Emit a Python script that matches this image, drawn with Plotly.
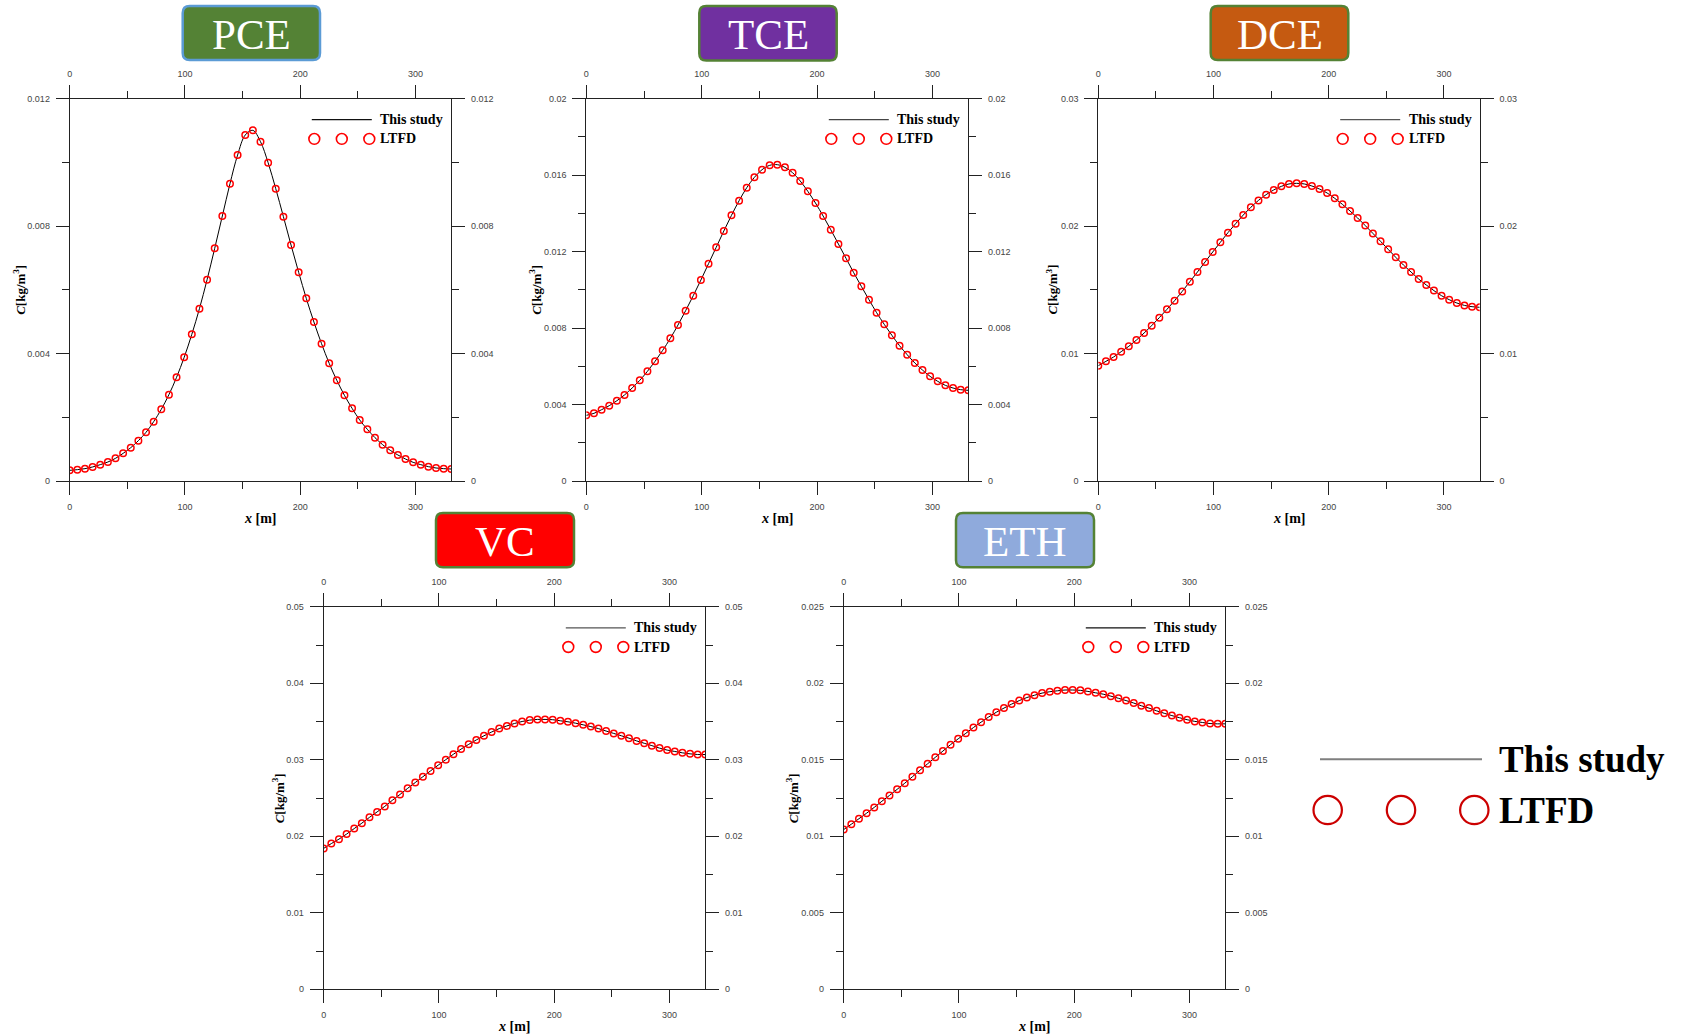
import plotly.graph_objects as go

W, H = 1682, 1035

# ---------------- data ----------------
x_m = [0, 6.62, 13.24, 19.86, 26.48, 33.1, 39.72, 46.34, 52.96, 59.58, 66.2, 72.82,
       79.44, 86.06, 92.68, 99.3, 105.92, 112.54, 119.16, 125.78, 132.4, 139.02,
       145.64, 152.26, 158.88, 165.5, 172.12, 178.74, 185.36, 191.98, 198.6, 205.22,
       211.84, 218.46, 225.08, 231.7, 238.32, 244.94, 251.56, 258.18, 264.8, 271.42,
       278.04, 284.66, 291.28, 297.9, 304.52, 311.14, 317.76, 324.38, 331.0]

# concentrations in units of 1e-3 kg/m3
pce = [0.335, 0.356, 0.387, 0.44, 0.513, 0.596, 0.711, 0.868, 1.046, 1.266, 1.528, 1.862,
       2.249, 2.71, 3.254, 3.882, 4.603, 5.409, 6.319, 7.303, 8.318, 9.332, 10.232, 10.86,
       11.006, 10.65, 9.99, 9.175, 8.297, 7.407, 6.549, 5.733, 4.99, 4.31, 3.693, 3.16,
       2.689, 2.281, 1.915, 1.622, 1.36, 1.14, 0.963, 0.816, 0.69, 0.586, 0.513, 0.45,
       0.408, 0.387, 0.377]
tce = [3.435, 3.54, 3.73, 3.94, 4.20, 4.50, 4.865, 5.266, 5.737, 6.26, 6.835, 7.463,
       8.16, 8.91, 9.695, 10.514, 11.369, 12.223, 13.078, 13.897, 14.664, 15.344, 15.885,
       16.286, 16.513, 16.548, 16.408, 16.129, 15.693, 15.153, 14.542, 13.862, 13.147,
       12.398, 11.648, 10.898, 10.183, 9.486, 8.806, 8.195, 7.62, 7.079, 6.608, 6.173,
       5.806, 5.475, 5.214, 5.004, 4.865, 4.778, 4.743]
dce = [9.05, 9.39, 9.73, 10.15, 10.57, 11.06, 11.61, 12.19, 12.82, 13.47, 14.15, 14.88,
       15.64, 16.40, 17.19, 17.97, 18.73, 19.49, 20.19, 20.87, 21.48, 22.02, 22.47, 22.84,
       23.12, 23.31, 23.36, 23.31, 23.15, 22.91, 22.60, 22.18, 21.71, 21.19, 20.64, 20.04,
       19.43, 18.81, 18.18, 17.55, 16.95, 16.40, 15.85, 15.38, 14.94, 14.54, 14.23, 13.97,
       13.78, 13.68, 13.63]
vc = [18.42, 19.05, 19.63, 20.29, 21.01, 21.72, 22.48, 23.19, 23.91, 24.71, 25.47, 26.27,
      27.03, 27.79, 28.55, 29.30, 30.02, 30.73, 31.40, 32.02, 32.60, 33.14, 33.63, 34.08,
      34.43, 34.75, 35.01, 35.19, 35.28, 35.28, 35.24, 35.10, 34.97, 34.79, 34.57, 34.34,
      34.08, 33.76, 33.45, 33.14, 32.83, 32.47, 32.16, 31.85, 31.53, 31.27, 31.09, 30.91,
      30.78, 30.69, 30.69]
eth = [10.44, 10.79, 11.15, 11.51, 11.89, 12.29, 12.67, 13.07, 13.47, 13.89, 14.32, 14.74,
       15.16, 15.57, 15.99, 16.37, 16.73, 17.11, 17.46, 17.80, 18.11, 18.38, 18.64, 18.87,
       19.07, 19.22, 19.36, 19.45, 19.51, 19.56, 19.56, 19.54, 19.47, 19.38, 19.29, 19.16,
       19.02, 18.87, 18.71, 18.53, 18.38, 18.20, 18.04, 17.89, 17.75, 17.62, 17.51, 17.44,
       17.37, 17.35, 17.35]

species = ["PCE", "TCE", "DCE", "VC", "ETH"]
series = [pce, tce, dce, vc, eth]
y_max = [0.012, 0.02, 0.03, 0.05, 0.025]
y_dtick = [0.004, 0.004, 0.01, 0.01, 0.005]
x_range = [0, 331]
x_dtick = 100
legend_labels = ["This study", "LTFD"]

# ---------------- layout geometry (pixels) ----------------
plot_boxes = [(69.7, 98.7, 451.3, 481), (586.3, 98.7, 968.3, 481),
              (1098.3, 98.7, 1479.7, 481), (323.7, 606.8, 705.3, 989.3),
              (843.7, 606.8, 1225.3, 989.3)]
title_boxes = [(182.7, 6, 320, 60, "#548235", "#5b9bd5"),
               (699.3, 6, 836.7, 60.5, "#7030a0", "#548235"),
               (1210.7, 6, 1348.3, 60, "#c55a11", "#548235"),
               (436, 513, 574, 567.2, "#ff0000", "#548235"),
               (956, 513, 1094, 567.2, "#8faadc", "#548235")]
ytitle_x = [19, 535, 1051.7, 278.3, 792.3]
legend_line_colors = ["#111", "#444", "#555", "#555", "#111"]

SERIF = "Liberation Serif, Times New Roman, serif"
SANS = "Liberation Sans, Arial, sans-serif"


def px(x):
    return x / W


def py(y):
    return 1 - y / H


fig = go.Figure()
layout = dict(width=W, height=H, margin=dict(l=0, r=0, t=0, b=0, pad=0),
              autosize=False,
              paper_bgcolor="white", plot_bgcolor="white", showlegend=False)
shapes = []
annotations = []

AX = "#222"


def base_axis(dtick, minor_dtick, rng):
    return dict(range=rng, showline=True, linecolor=AX, linewidth=1,
                ticks="outside", ticklen=13, tickwidth=1, tickcolor=AX,
                showgrid=False, zeroline=False, dtick=dtick, tick0=0,
                tickfont=dict(family=SANS, size=9, color="#444"),
                ticklabelstandoff=4, automargin=False,
                minor=dict(ticks="outside", ticklen=7, tickwidth=1, tickcolor=AX,
                           dtick=minor_dtick, tick0=0, showgrid=False))


for i in range(5):
    x0, y0, x1, y1 = plot_boxes[i]
    na, nb = 2 * i + 1, 2 * i + 2
    xa = "x" if na == 1 else f"x{na}"
    ya = "y" if na == 1 else f"y{na}"
    xb, yb = f"x{nb}", f"y{nb}"
    xdom = [px(x0), px(x1)]
    ydom = [py(y1), py(y0)]
    yr = [0, y_max[i]]

    ax_bottom = base_axis(x_dtick, x_dtick / 2, x_range)
    ax_bottom.update(domain=xdom, anchor=ya)
    ax_top = base_axis(x_dtick, x_dtick / 2, x_range)
    ax_top.update(domain=xdom, anchor=ya, overlaying=xa, side="top")
    ay_left = base_axis(y_dtick[i], y_dtick[i] / 2, yr)
    ay_left.update(domain=ydom, anchor=xa)
    ay_right = base_axis(y_dtick[i], y_dtick[i] / 2, yr)
    ay_right.update(domain=ydom, anchor=xa, overlaying=ya, side="right")

    layout["xaxis" if na == 1 else f"xaxis{na}"] = ax_bottom
    layout[f"xaxis{nb}"] = ax_top
    layout["yaxis" if na == 1 else f"yaxis{na}"] = ay_left
    layout[f"yaxis{nb}"] = ay_right

    yv = [v / 1000 for v in series[i]]
    fig.add_trace(go.Scatter(x=x_m, y=yv, mode="lines", xaxis=xa, yaxis=ya,
                             line=dict(color="black", width=1, shape="spline",
                                       smoothing=1.0),
                             name=legend_labels[0], hoverinfo="skip"))
    fig.add_trace(go.Scatter(x=x_m, y=yv, mode="markers", xaxis=xa, yaxis=ya,
                             marker=dict(symbol="circle-open", size=6.5, color="#ff0000",
                                         line=dict(width=1.5, color="#ff0000")),
                             name=legend_labels[1]))
    fig.add_trace(go.Scatter(x=[None], y=[None], mode="lines", xaxis=xb, yaxis=yb,
                             hoverinfo="skip"))

    # axis titles
    annotations.append(dict(x=px((x0 + x1) / 2), y=py(y1 + 37.5), xref="paper", yref="paper",
                            text="<b><i>x</i> [m]</b>", showarrow=False,
                            font=dict(family=SERIF, size=14, color="black"),
                            xanchor="center", yanchor="middle"))
    annotations.append(dict(x=px(ytitle_x[i]), y=py((y0 + y1) / 2), xref="paper",
                            yref="paper", text="<b><i>C</i>[kg/m<sup>3</sup>]</b>",
                            showarrow=False, textangle=-90,
                            font=dict(family=SERIF, size=13, color="black"),
                            xanchor="center", yanchor="middle"))

    # in-plot legend
    ly1 = y0 + 21
    ly2 = y0 + 40.2
    shapes.append(dict(type="line", xref="paper", yref="paper",
                       x0=px(x1 - 139.5), x1=px(x1 - 79.5), y0=py(ly1), y1=py(ly1),
                       line=dict(color=legend_line_colors[i], width=1.3)))
    for cx in (x1 - 137, x1 - 109.5, x1 - 82):
        r = 5.4
        shapes.append(dict(type="circle", xref="paper", yref="paper",
                           x0=px(cx - r), x1=px(cx + r), y0=py(ly2 + r), y1=py(ly2 - r),
                           line=dict(color="#ff0000", width=1.6)))
    annotations.append(dict(x=px(x1 - 73), y=py(ly1), xref="paper", yref="paper",
                            text="<b>" + legend_labels[0] + "</b>", showarrow=False,
                            font=dict(family=SERIF, size=14, color="black"),
                            xanchor="left", yanchor="middle"))
    annotations.append(dict(x=px(x1 - 73), y=py(ly2), xref="paper", yref="paper",
                            text="<b>" + legend_labels[1] + "</b>", showarrow=False,
                            font=dict(family=SERIF, size=14, color="black"),
                            xanchor="left", yanchor="middle"))

    # title box
    bx0, by0, bx1, by1, fill, border = title_boxes[i]
    rr = 7
    path = (f"M {px(bx0 + rr)},{py(by0)} L {px(bx1 - rr)},{py(by0)} "
            f"Q {px(bx1)},{py(by0)} {px(bx1)},{py(by0 + rr)} "
            f"L {px(bx1)},{py(by1 - rr)} Q {px(bx1)},{py(by1)} {px(bx1 - rr)},{py(by1)} "
            f"L {px(bx0 + rr)},{py(by1)} Q {px(bx0)},{py(by1)} {px(bx0)},{py(by1 - rr)} "
            f"L {px(bx0)},{py(by0 + rr)} Q {px(bx0)},{py(by0)} {px(bx0 + rr)},{py(by0)} Z")
    shapes.append(dict(type="path", xref="paper", yref="paper", path=path,
                       fillcolor=fill, line=dict(color=border, width=2.5), layer="above"))
    annotations.append(dict(x=px((bx0 + bx1) / 2), y=py((by0 + by1) / 2 + 1),
                            xref="paper", yref="paper", text=species[i], showarrow=False,
                            font=dict(family=SERIF, size=43, color="white"),
                            xanchor="center", yanchor="middle"))

# big shared legend on the right
shapes.append(dict(type="line", xref="paper", yref="paper",
                   x0=px(1320), x1=px(1482), y0=py(759.3), y1=py(759.3),
                   line=dict(color="#7f7f7f", width=2)))
for cx in (1327.7, 1401, 1474.3):
    r = 14.2
    shapes.append(dict(type="circle", xref="paper", yref="paper",
                       x0=px(cx - r), x1=px(cx + r), y0=py(810 + r), y1=py(810 - r),
                       line=dict(color="#cc0000", width=2.2)))
annotations.append(dict(x=px(1497), y=py(759), xref="paper", yref="paper",
                        text="<b>" + legend_labels[0] + "</b>", showarrow=False,
                        font=dict(family=SERIF, size=37, color="black"),
                        xanchor="left", yanchor="middle"))
annotations.append(dict(x=px(1497), y=py(810), xref="paper", yref="paper",
                        text="<b>" + legend_labels[1] + "</b>", showarrow=False,
                        font=dict(family=SERIF, size=37, color="black"),
                        xanchor="left", yanchor="middle"))

layout["shapes"] = shapes
layout["annotations"] = annotations
fig.update_layout(**layout)
fig.write_html("out.html")
